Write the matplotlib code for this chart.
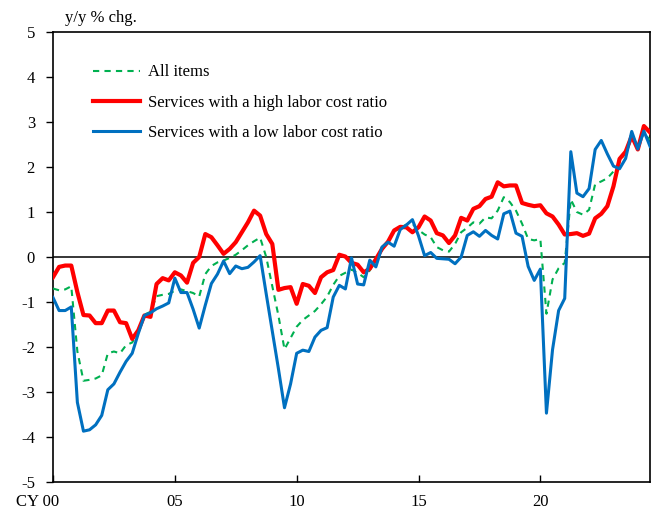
import numpy as np
import matplotlib
matplotlib.use('Agg')
import matplotlib.pyplot as plt
import matplotlib.transforms as mtransforms

plt.rcParams['font.family'] = ['Liberation Serif', 'DejaVu Serif']
plt.rcParams['axes.unicode_minus'] = False

# quarterly data, CY2000Q1 onward (y/y % chg.)
year_ticks = [0, 20, 40, 60, 80]
year_labels = ["CY 00", "05", "10", "15", "20"]

all_items = [-0.70, -0.74, -0.72, -0.65, -2.10, -2.75, -2.73, -2.70, -2.63, -2.14,
             -2.10, -2.14, -1.96, -1.90, -1.66, -1.28, -1.22, -0.87, -0.84, -0.82,
             -0.75, -0.72, -0.76, -0.80, -0.88, -0.38, -0.20, -0.12, -0.08, -0.02,
             0.05, 0.15, 0.26, 0.35, 0.43, 0.00, -0.65, -1.30, -2.05, -1.80,
             -1.55, -1.40, -1.30, -1.20, -1.05, -0.88, -0.62, -0.42, -0.35, -0.28,
             -0.35, -0.45, -0.30, -0.03, 0.15, 0.35, 0.57, 0.65, 0.72, 0.74,
             0.60, 0.50, 0.44, 0.22, 0.15, 0.12, 0.29, 0.55, 0.65, 0.77,
             0.74, 0.88, 0.86, 1.03, 1.33, 1.22, 1.03, 0.74, 0.40, 0.37,
             0.40, -1.26, -0.50, -0.25, -0.13, 1.28, 1.00, 0.94, 1.05, 1.62,
             1.68, 1.75, 1.90, 2.10, 2.35, 2.62, 2.50, 2.75, 2.60]

high_labor = [-0.45, -0.22, -0.19, -0.19, -0.78, -1.29, -1.30, -1.47, -1.47, -1.19,
              -1.19, -1.45, -1.47, -1.82, -1.63, -1.30, -1.33, -0.60, -0.47, -0.52,
              -0.34, -0.41, -0.57, -0.13, 0.00, 0.51, 0.44, 0.26, 0.07, 0.18,
              0.33, 0.55, 0.77, 1.03, 0.92, 0.51, 0.29, -0.73, -0.69, -0.67,
              -1.04, -0.60, -0.64, -0.80, -0.45, -0.34, -0.29, 0.05, 0.01, -0.13,
              -0.17, -0.34, -0.26, -0.05, 0.18, 0.34, 0.59, 0.67, 0.66, 0.55,
              0.66, 0.90, 0.81, 0.53, 0.48, 0.31, 0.48, 0.87, 0.81, 1.07,
              1.13, 1.29, 1.34, 1.66, 1.57, 1.59, 1.59, 1.20, 1.16, 1.13,
              1.15, 0.97, 0.90, 0.72, 0.50, 0.51, 0.53, 0.47, 0.52, 0.86,
              0.96, 1.13, 1.57, 2.18, 2.34, 2.69, 2.39, 2.91, 2.77]

low_labor = [-0.90, -1.19, -1.19, -1.11, -3.23, -3.87, -3.84, -3.73, -3.52, -2.95,
             -2.82, -2.56, -2.32, -2.14, -1.70, -1.30, -1.24, -1.15, -1.09, -1.02,
             -0.47, -0.79, -0.79, -1.16, -1.58, -1.07, -0.59, -0.38, -0.09, -0.37,
             -0.20, -0.26, -0.23, -0.11, 0.03, -0.82, -1.65, -2.48, -3.35, -2.82,
             -2.14, -2.07, -2.10, -1.78, -1.63, -1.57, -0.89, -0.63, -0.71, -0.02,
             -0.60, -0.62, -0.07, -0.22, 0.22, 0.33, 0.24, 0.61, 0.71, 0.83,
             0.47, 0.03, 0.10, -0.03, -0.04, -0.05, -0.15, 0.00, 0.48, 0.56,
             0.46, 0.59, 0.48, 0.40, 0.96, 1.02, 0.53, 0.46, -0.21, -0.52,
             -0.27, -3.47, -2.06, -1.19, -0.92, 2.34, 1.42, 1.34, 1.52, 2.39,
             2.59, 2.29, 2.02, 1.96, 2.19, 2.79, 2.40, 2.80, 2.46]

q = np.arange(len(all_items))

fig = plt.figure(figsize=(6.51, 5.18), dpi=100)
ax = fig.add_axes([53/651, 1-482/518, 597/651, 450/518])

ax.axhline(0, color='black', lw=1.1, zorder=1)
ax.plot(q, all_items, color='#00B050', lw=1.5, linestyle=(0, (3, 2.5)), label='All items', zorder=3)
ax.plot(q, high_labor, color='#FF0000', lw=3.0, label='Services with a high labor cost ratio', zorder=3)
ax.plot(q, low_labor, color='#0070C0', lw=2.2, label='Services with a low labor cost ratio', zorder=4)

ax.set_xlim(0, 98)
ax.set_ylim(-5, 5)
ax.set_yticks(range(-5, 6))
ax.set_xticks(year_ticks)
ax.set_xticklabels(year_labels)

ax.tick_params(axis='y', direction='out', length=5, width=1, labelsize=12, pad=8)
ax.tick_params(axis='x', direction='in', length=5, width=1, labelsize=12, pad=9)
for s in ax.spines.values():
    s.set_linewidth(1.2)

# shift "CY 00" so that "00" sits under the tick
lab0 = ax.get_xticklabels()[0]
lab0.set_transform(lab0.get_transform() + mtransforms.ScaledTranslation(-15/100, 0, fig.dpi_scale_trans))

fig.text(65/651, 1-18/518, "y/y % chg.", fontsize=12, va='center', ha='left')

ax.legend(loc='upper left', bbox_to_anchor=(0.067, 0.928), borderaxespad=0, borderpad=0,
          frameon=False, fontsize=12, handlelength=2.8, handletextpad=0.5, labelspacing=0.85)

fig.savefig("out.png", dpi=100)
